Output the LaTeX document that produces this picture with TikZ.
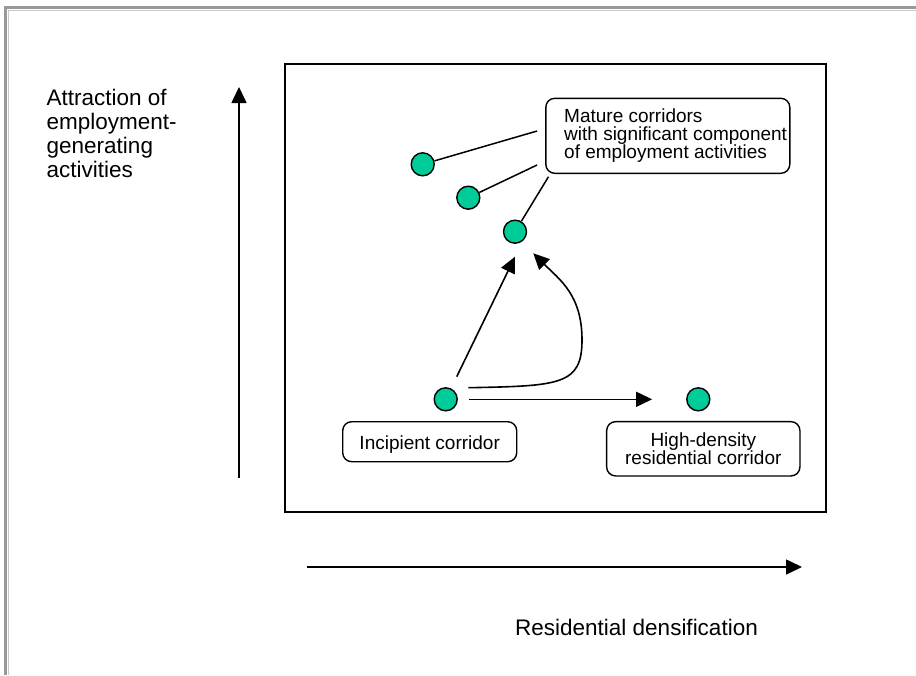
\documentclass[tikz,border=0pt]{standalone}
\usepackage{fontspec}
\setmainfont{Liberation Sans}
\usetikzlibrary{arrows.meta,positioning,calc}
\definecolor{frameout}{HTML}{999999}
\definecolor{framein}{HTML}{C8C8C8}
\definecolor{corrgreen}{HTML}{00CC99}
\definecolor{ink}{HTML}{000000}
\newcommand{\boxfont}{\fontsize{19}{17.5}\selectfont}
\newcommand{\axisfont}{\fontsize{22.5}{24.2}\selectfont}
\tikzset{
  site/.style={circle,draw=ink,fill=corrgreen,line width=1.4pt,
               minimum size=23pt,inner sep=0pt},
  tagbox/.style={draw=ink,rounded corners=9pt,line width=1.4pt,
                 align=center,inner sep=0pt,font=\boxfont},
  axislabel/.style={font=\axisfont,inner sep=0pt,align=left},
  flowarr/.style={-{Triangle[length=16pt,width=15pt]},line width=1.6pt},
  tieline/.style={line width=1.5pt}
}

\begin{document}
\begin{tikzpicture}[x=1pt,y=-1pt]
  \useasboundingbox (0,0) rectangle (916,675);
  % page frame (only top and left edges show)
  \draw[frameout,line width=3pt] (5.5,675) -- (5.5,7.5) -- (916,7.5);
  \draw[framein,line width=1.5pt] (8.5,675) -- (8.5,10.5) -- (916,10.5);

  % plot area and axes
  \draw[ink,line width=1.7pt] (285,64) rectangle (826,512);
  \draw[flowarr] (239,478) -- (239,87);
  \draw[flowarr] (307,567) -- (802,567);
  \node[axislabel,anchor=north west] (ylab) at (46.5,88.5)
    {Attraction of\\employment-\\generating\\activities};
  \node[axislabel,anchor=base west] (xlab) at (515,635) {Residential densification};

  % corridor sites
  \node[site] (mat1) at (422.7,164.3) {};
  \node[site] (mat2) at (468.3,197.7) {};
  \node[site] (mat3) at (515,231.7) {};
  \node[site] (inc) at (445.7,399.3) {};
  \node[site] (hd) at (698.3,399.3) {};

  % labels
  \node[tagbox,minimum width=244pt,minimum height=75pt] (mature) at (667.8,135.8) {};
  \node[font=\boxfont,align=left,inner sep=0pt,anchor=west] (maturetext) at (564,135.8)
    {Mature corridors\\with significant component\\of employment activities};
  \node[tagbox,minimum width=174pt,minimum height=40pt,
        text height=15.5pt,text depth=0.3pt] (inclab) at (429.7,441.7)
    {Incipient corridor};
  \node[tagbox,minimum width=193.3pt,minimum height=54.3pt] (hdlab) at (703.3,448.8)
    {High-density\\residential corridor};

  % ties to the mature label
  \draw[tieline] (mat1) -- ([xshift=-8pt,yshift=4.8pt]mature.west);
  \draw[tieline] (mat2) -- ([xshift=-8pt,yshift=9pt]mature.south west);
  \draw[tieline] (mat3) -- ([xshift=3.4pt,yshift=-2.7pt]mature.south west);

  % transitions
  \coordinate (bend) at (582,340);
  \draw[flowarr,shorten <=11pt,shorten >=34pt] (inc) -- (hd);
  \draw[flowarr] ($(inc)+(11,-22.6)$) -- ($(mat3)+(0,25)$);
  \draw[flowarr] ($(inc)+(22.6,-11.6)$) .. controls +(91.7,-1.7) and +(0,45) .. (bend)
    .. controls +(0,-45) and +(26.7,26.7) .. ($(mat3)+(18.3,21.6)$);
\end{tikzpicture}
\end{document}
